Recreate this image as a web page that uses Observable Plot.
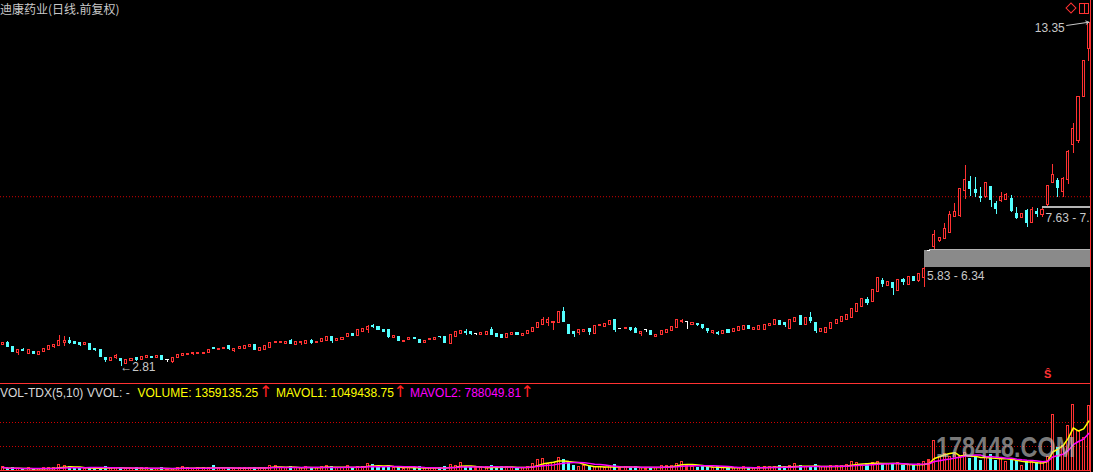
<!DOCTYPE html>
<html><head><meta charset="utf-8">
<script src="https://cdn.jsdelivr.net/npm/d3@7"></script>
<script src="https://cdn.jsdelivr.net/npm/@observablehq/plot@0.6"></script>
<style>
html,body{margin:0;padding:0;background:#000;}
#wrap{position:relative;width:1093px;height:472px;background:#000;overflow:hidden;font-family:"Liberation Sans",Arial,sans-serif;}
#main{position:absolute;left:0;top:0;}
#vol{position:absolute;left:0;top:383px;}
.t{position:absolute;font-size:12px;line-height:12px;white-space:pre;}
</style></head><body>
<div id="wrap">
  <div id="main"></div>
  <div id="vol"></div>
  <div class="t" id="title" style="left:0;top:3px;color:#c8c8c8;font-family:'Noto Sans CJK SC',sans-serif;"></div>
  <div style="position:absolute;left:1067px;top:4px;width:6px;height:6px;border:1px solid #ff3232;transform:rotate(45deg);"></div>
  <div style="position:absolute;left:1079px;top:3px;width:8px;height:9px;border:1px solid #ff3232;"></div>
  <div style="position:absolute;left:1084px;top:3px;width:1px;height:11px;background:#ff3232;"></div>
  <div style="position:absolute;left:0;top:383px;width:1091px;height:1px;background:#ff3232;"></div>
  <div style="position:absolute;left:1090px;top:0;width:1px;height:472px;background:#ff3232;"></div>
  <div id="legend"></div>
  <div class="t" style="left:936px;top:432px;font-size:30px;line-height:30px;font-weight:bold;transform:scaleX(0.78);transform-origin:0 0;color:rgba(205,205,205,0.6);">178448.COM</div>
</div>
<script>
// ---- data ----
const title = "迪康药业(日线.前复权)";
const open = [3.44,3.51,3.39,3.22,3.29,3.19,3.24,3.14,3.25,3.31,3.39,3.41,3.53,3.57,3.56,3.51,3.44,3.47,3.33,3.29,
3.06,2.96,3.04,3.01,2.88,2.95,3.05,2.98,3.05,3.10,3.05,3.11,3.00,2.93,3.05,3.11,3.14,3.17,3.18,3.19,
3.21,3.36,3.29,3.32,3.41,3.27,3.32,3.33,3.39,3.45,3.27,3.30,3.37,3.50,3.52,3.48,3.59,3.46,3.51,3.49,
3.59,3.51,3.54,3.57,3.71,3.58,3.62,3.69,3.78,3.73,3.84,3.92,4.04,4.00,3.92,3.90,3.67,3.69,3.55,3.60,
3.68,3.62,3.51,3.60,3.62,3.71,3.69,3.48,3.69,3.80,3.86,3.84,3.81,3.76,3.77,3.90,3.78,3.75,3.67,3.75,
3.81,3.72,3.79,3.85,3.97,4.08,4.14,4.14,4.12,4.47,4.08,3.86,3.83,3.85,3.93,3.79,4.04,4.02,4.06,4.23,
3.96,3.94,3.98,3.94,3.79,3.92,3.87,3.70,3.75,3.82,3.88,3.97,4.15,4.17,4.06,4.11,4.06,3.95,3.82,3.83,
3.79,3.90,3.85,3.88,3.92,4.04,3.92,3.92,3.90,4.04,4.06,4.19,4.12,3.93,4.15,4.33,4.06,4.27,4.12,3.85,
3.83,3.93,4.10,4.16,4.23,4.27,4.48,4.63,4.82,4.77,5.07,5.43,5.25,5.35,5.10,5.45,5.28,5.55,5.41,5.51,
6.34,6.47,6.64,6.71,6.88,7.37,7.40,8.19,8.44,8.21,8.00,8.00,8.31,7.78,7.88,7.90,7.94,7.47,7.35,7.56,
7.19,7.52,7.45,7.76,8.41,8.47,8.14,8.52,9.60,9.70,11.05,12.53];
const close = [3.52,3.39,3.25,3.29,3.27,3.29,3.19,3.24,3.34,3.41,3.44,3.59,3.59,3.51,3.49,3.45,3.50,3.31,3.29,3.08,
3.00,3.04,3.12,2.95,2.98,3.01,3.00,3.08,3.13,3.05,3.11,2.98,3.00,3.04,3.16,3.17,3.19,3.22,3.22,3.22,
3.31,3.33,3.34,3.37,3.33,3.32,3.38,3.41,3.44,3.30,3.35,3.41,3.50,3.55,3.54,3.56,3.48,3.54,3.55,3.57,
3.53,3.55,3.63,3.71,3.57,3.64,3.67,3.79,3.73,3.90,3.95,4.00,4.00,3.90,3.85,3.69,3.72,3.57,3.57,3.68,
3.63,3.52,3.59,3.65,3.68,3.69,3.51,3.76,3.86,3.88,3.81,3.80,3.81,3.81,3.84,3.76,3.71,3.67,3.79,3.81,
3.77,3.79,3.87,3.96,4.14,4.21,4.21,4.16,4.47,4.16,3.78,3.80,3.90,3.92,3.84,4.04,4.08,4.10,4.19,3.92,
3.96,3.98,3.90,3.82,3.86,3.92,3.75,3.76,3.87,3.90,4.02,4.23,4.20,4.17,4.12,4.06,3.97,3.89,3.88,3.80,
3.87,3.82,3.93,4.00,4.03,3.95,3.98,4.04,4.06,4.10,4.21,4.08,4.06,4.21,4.29,4.08,4.27,4.19,3.88,3.95,
3.96,4.14,4.21,4.31,4.36,4.57,4.72,4.85,4.74,5.15,5.51,5.33,5.38,5.21,5.45,5.38,5.55,5.43,5.62,5.79,
6.34,6.84,6.74,7.01,7.45,7.52,8.24,8.52,8.24,8.11,7.96,8.42,7.90,7.63,8.00,8.06,7.56,7.35,7.47,7.19,
7.58,7.47,7.60,8.34,8.68,8.27,8.55,9.37,10.08,11.05,12.16,13.33];
const high = [3.53,3.56,3.42,3.29,3.35,3.29,3.26,3.24,3.34,3.41,3.44,3.75,3.71,3.69,3.56,3.53,3.50,3.47,3.35,3.32,
3.08,3.04,3.15,3.01,2.98,3.01,3.06,3.08,3.13,3.10,3.11,3.11,3.02,3.04,3.16,3.17,3.19,3.22,3.22,3.22,
3.31,3.36,3.34,3.37,3.41,3.32,3.38,3.41,3.44,3.47,3.35,3.41,3.50,3.55,3.55,3.56,3.62,3.54,3.57,3.57,
3.61,3.55,3.63,3.71,3.71,3.64,3.67,3.79,3.78,3.90,3.95,4.05,4.08,4.02,3.93,3.90,3.73,3.69,3.57,3.68,
3.68,3.62,3.59,3.65,3.68,3.71,3.69,3.76,3.86,3.88,3.92,3.86,3.81,3.81,3.84,3.98,3.78,3.75,3.79,3.81,
3.83,3.79,3.87,3.96,4.14,4.29,4.29,4.16,4.47,4.59,4.08,3.88,3.90,3.92,3.96,4.04,4.08,4.10,4.21,4.23,
3.96,3.98,3.98,4.00,3.86,3.92,3.87,3.76,3.87,3.90,4.02,4.25,4.25,4.17,4.12,4.11,4.06,3.95,3.88,3.86,
3.87,3.90,3.93,4.00,4.03,4.04,3.98,4.04,4.06,4.10,4.21,4.19,4.12,4.21,4.31,4.33,4.27,4.46,4.12,3.95,
3.96,4.14,4.21,4.31,4.36,4.57,4.72,4.85,4.92,5.15,5.51,5.48,5.38,5.35,5.45,5.48,5.56,5.55,5.62,5.83,
6.34,6.96,6.76,7.17,7.55,7.80,8.24,8.96,8.62,8.58,8.29,8.45,8.31,7.85,8.14,8.11,8.04,7.66,7.50,7.60,
7.66,7.63,7.63,8.34,8.99,8.55,8.60,9.42,10.23,11.05,12.16,13.35];
const low = [3.43,3.37,3.22,3.13,3.27,3.19,3.16,3.14,3.25,3.31,3.35,3.41,3.41,3.47,3.46,3.42,3.44,3.31,3.25,3.08,
2.92,2.96,3.00,2.81,2.88,2.95,2.95,2.98,3.05,3.05,3.05,2.98,2.91,2.89,3.05,3.11,3.14,3.14,3.18,3.19,
3.21,3.33,3.29,3.32,3.29,3.22,3.32,3.33,3.39,3.30,3.27,3.30,3.37,3.50,3.52,3.48,3.48,3.46,3.44,3.49,
3.48,3.51,3.54,3.57,3.51,3.58,3.62,3.69,3.73,3.73,3.84,3.82,3.95,3.90,3.85,3.64,3.67,3.57,3.55,3.59,
3.63,3.50,3.51,3.60,3.62,3.64,3.51,3.48,3.69,3.80,3.76,3.73,3.73,3.76,3.73,3.76,3.71,3.67,3.67,3.75,
3.75,3.72,3.79,3.85,3.97,4.05,4.02,3.90,4.12,4.16,3.78,3.67,3.76,3.85,3.73,3.79,4.04,3.99,4.06,3.85,
3.92,3.94,3.88,3.80,3.71,3.85,3.75,3.70,3.75,3.82,3.88,3.97,4.12,3.92,4.06,4.02,3.94,3.80,3.78,3.73,
3.79,3.82,3.85,3.88,3.92,3.95,3.92,3.92,3.90,4.04,4.06,4.08,3.98,3.93,4.15,4.08,4.06,4.10,3.82,3.85,
3.83,3.93,4.10,4.16,4.23,4.27,4.48,4.63,4.67,4.77,5.07,5.21,5.25,4.97,5.10,5.28,5.28,5.43,5.38,5.21,
6.34,6.38,6.61,6.71,6.88,7.35,7.37,7.91,8.01,7.97,7.83,7.93,7.68,7.45,7.83,7.90,7.51,7.30,7.33,7.07,
7.19,7.35,7.35,7.70,8.39,7.98,7.97,8.36,9.31,9.64,11.05,12.16];
const volume = [64000,42000,45000,40000,32000,43000,31000,41000,44000,52000,55000,108000,86000,84000,51000,43000,41000,54000,62000,44000,
65000,52000,63000,55000,42000,41000,43000,44000,53000,41000,33000,45000,42000,34000,63000,66000,43000,42000,44000,62000,
54000,85000,43000,45000,53000,42000,55000,52000,54000,56000,63000,52000,86000,104000,62000,53000,65000,51000,54000,84000,
52000,55000,83000,87000,64000,53000,51000,86000,63000,84000,66000,148000,126000,75000,63000,88000,62000,65000,42000,64000,
52000,66000,53000,51000,54000,43000,65000,107000,86000,151000,74000,63000,44000,52000,64000,105000,62000,66000,75000,63000,
53000,52000,76000,128000,213000,236000,146000,152000,271000,214000,163000,86000,84000,87000,73000,76000,74000,63000,86000,108000,
52000,64000,62000,75000,53000,62000,54000,63000,85000,104000,96000,148000,171000,127000,84000,63000,86000,64000,62000,65000,
52000,63000,54000,53000,64000,52000,63000,66000,74000,76000,64000,85000,73000,87000,128000,86000,75000,84000,107000,73000,
76000,85000,96000,106000,108000,172000,168000,127000,142000,150000,171000,148000,141000,137000,150000,106000,107000,99000,142000,176000,
227000,637000,283000,354000,297000,319000,283000,368000,248000,283000,198000,283000,319000,212000,248000,177000,248000,198000,106000,177000,
177000,156000,177000,276304,1180000,470000,530000,950000,1400000,840000,698059,1359135];
// unfilled price gaps (start candle, lower and upper price) and their labels
const gapStart = [179, 180, 202];
const gapLo = [5.83, 6.34, 7.63];
const gapHi = [6.34, 6.38, 7.70];
const gapLabel = ["5.83 - 6.34", "", "7.63 - 7.70"];
const signalIdx = [203];
const mainGrid = [8.0];
const volGrid = [509700, 1019300];
const legendItems = [
  {text: "VOL-TDX(5,10)", color: "#d8d8d8", left: 0, arrow: false},
  {text: "VVOL: -", color: "#d8d8d8", left: 87, arrow: false},
  {text: "VOLUME: 1359135.25", color: "#ffff00", left: 137.5, arrow: false},
  {text: "↑", color: "#ff2020", left: 259, arrow: true},
  {text: "MAVOL1: 1049438.75", color: "#ffff00", left: 276, arrow: false},
  {text: "↑", color: "#ff2020", left: 393.5, arrow: true},
  {text: "MAVOL2: 788049.81", color: "#ff00ff", left: 410, arrow: false},
  {text: "↑", color: "#ff2020", left: 520.5, arrow: true}
];

// ---- build ----
const UP = "#ff3232", DOWN = "#54ffff", FLAT = "#ffffff";
const N = open.length;
const rows = open.map((o, i) => ({i, o, c: close[i], h: high[i], l: low[i], v: volume[i]}));
const kind = d => d.c > d.o ? "up" : d.c < d.o ? "down" : "flat";
const col = d => kind(d) === "up" ? UP : kind(d) === "down" ? DOWN : FLAT;
const bodies = rows.filter(d => kind(d) !== "flat");
const flats = rows.filter(d => kind(d) === "flat");
const gaps = gapStart.map((s, k) => ({s, e: N, lo: gapLo[k], hi: gapHi[k], label: gapLabel[k]}));
const xs = {type: "linear", domain: [0, N - 1], range: [2.3, 1088.3], axis: null};
const hiIdx = d3.maxIndex(high), loIdx = d3.minIndex(low);
const baseStyle = {background: "#000", color: "#c8c8c8", fontFamily: "Liberation Sans, Arial, sans-serif", fontSize: "12px"};

document.getElementById("title").textContent = title;

const main = Plot.plot({
  width: 1093, height: 383, marginTop: 0, marginBottom: 0, marginLeft: 0, marginRight: 3,
  style: baseStyle,
  x: xs,
  y: {domain: [2.81, 13.35], range: [365.5, 21.7], axis: null},
  marks: [
    Plot.ruleY(mainGrid, {stroke: "#d00000", strokeDasharray: "1,2"}),
    Plot.rect(gaps, {x1: "s", x2: "e", y1: "lo", y2: "hi", fill: d => d.hi - d.lo > 0.2 ? "#8a8a8a" : "#b4b4b4", clip: "frame", shapeRendering: "crispEdges"}),
    Plot.ruleX(rows, {x: "i", y1: "l", y2: "h", stroke: col, shapeRendering: "crispEdges"}),
    Plot.rect(bodies, {x1: d => d.i - 0.2, x2: d => d.i + 0.2, y1: "o", y2: "c",
      fill: d => kind(d) === "up" ? "#000" : DOWN, stroke: col, shapeRendering: "crispEdges"}),
    Plot.ruleY(flats, {x1: d => d.i - 0.3, x2: d => d.i + 0.3, y: "o", stroke: FLAT, shapeRendering: "crispEdges"}),
    Plot.text(gaps.filter(g => g.label), {x: "s", y: "lo", text: "label", textAnchor: "start", dx: 3, dy: 9, fill: "#c8c8c8", fontSize: 12, clip: "frame"}),
    Plot.text([hiIdx], {x: d => d, y: d => high[d], text: d => high[d].toFixed(2), textAnchor: "end", dx: -24, dy: 6, fill: "#c8c8c8", fontSize: 12}),
    Plot.arrow([hiIdx], {x1: d => d - 4.3, y1: d => high[d] - 0.1, x2: d => d, y2: d => high[d], stroke: "#c8c8c8", headLength: 5, strokeWidth: 1}),
    Plot.text([loIdx], {x: d => d, y: d => low[d], text: d => "←" + low[d].toFixed(2), textAnchor: "start", dx: -1, dy: 1, fill: "#c8c8c8", fontSize: 12}),
    Plot.text(signalIdx, {x: d => d, frameAnchor: "bottom", dy: -6, text: () => "Ŝ", fill: UP, fontSize: 11, fontWeight: "bold"})
  ]
});
document.getElementById("main").appendChild(main);

const vol = Plot.plot({
  width: 1093, height: 89, marginTop: 0, marginBottom: 0, marginLeft: 0, marginRight: 3,
  style: baseStyle,
  x: xs,
  y: {domain: [0, 1529000], range: [87, 15], axis: null},
  marks: [
    Plot.ruleY(volGrid, {stroke: "#d00000", strokeDasharray: "1,2"}),
    Plot.rect(rows, {x1: d => d.i - 0.2, x2: d => d.i + 0.2, y1: 0, y2: "v",
      fill: d => kind(d) === "up" ? "#000" : kind(d) === "down" ? DOWN : UP,
      stroke: d => kind(d) === "down" ? DOWN : UP, shapeRendering: "crispEdges"}),
    Plot.lineY(rows, Plot.windowY({k: 5, anchor: "end"}, {x: "i", y: "v", stroke: "#ffff00"})),
    Plot.lineY(rows, Plot.windowY({k: 10, anchor: "end"}, {x: "i", y: "v", stroke: "#ff00ff"})),
    Plot.ruleY([0], {stroke: UP})
  ]
});
document.getElementById("vol").appendChild(vol);

const lg = document.getElementById("legend");
for (const it of legendItems) {
  const s = document.createElement("div");
  s.className = "t";
  s.style.left = it.left + "px";
  s.style.top = it.arrow ? "384px" : "387px";
  s.style.color = it.color;
  if (it.arrow) { s.style.fontSize = "16px"; s.style.lineHeight = "16px"; s.style.fontFamily = "'DejaVu Sans',sans-serif"; }
  s.textContent = it.text;
  lg.appendChild(s);
}
</script>
</body></html>
